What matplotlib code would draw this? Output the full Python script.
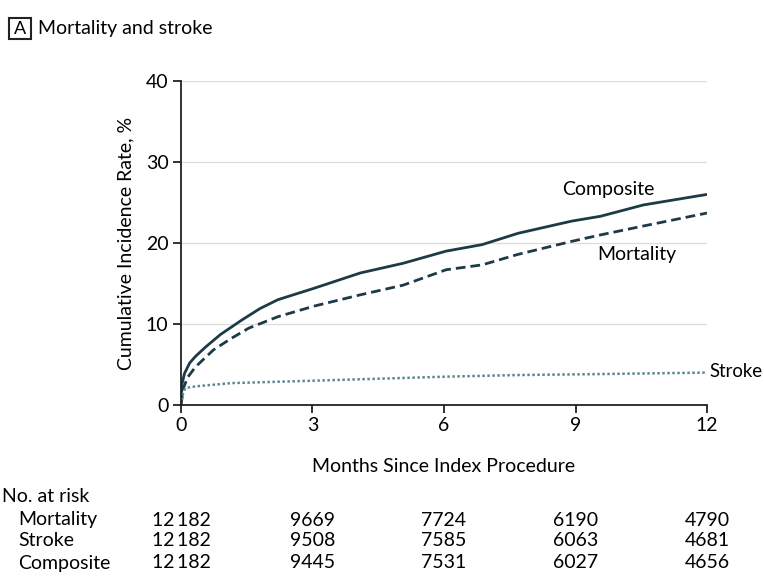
import matplotlib
matplotlib.use("Agg")
import matplotlib.pyplot as plt
from matplotlib.patches import Rectangle
from matplotlib.transforms import blended_transform_factory

# --- data ---
composite_months = [0, 0.02, 0.08, 0.2, 0.33, 0.57, 0.90, 1.39, 1.8, 2.21, 3.03, 4.09, 5.07, 6.05, 6.87, 7.69, 8.91, 9.57, 10.55, 12]
composite_pct = [0, 2.5, 3.9, 5.2, 6.0, 7.2, 8.7, 10.5, 11.9, 13.0, 14.4, 16.3, 17.5, 19.0, 19.8, 21.2, 22.7, 23.3, 24.7, 26.0]

mortality_months = [0, 0.05, 0.15, 0.33, 0.74, 1.14, 1.55, 2.21, 3.03, 4.09, 5.07, 6.05, 6.87, 7.69, 8.91, 9.57, 10.55, 12]
mortality_pct = [0, 2.0, 3.4, 4.7, 6.8, 8.2, 9.5, 10.9, 12.2, 13.6, 14.8, 16.7, 17.3, 18.6, 20.2, 21.0, 22.1, 23.7]

stroke_months = [0, 0.05, 0.1, 0.33, 1.14, 3.03, 6.05, 7.69, 9.3, 12]
stroke_pct = [0, 1.5, 2.1, 2.3, 2.7, 3.0, 3.5, 3.7, 3.8, 4.0]

tick_months = [0, 3, 6, 9, 12]
risk_rows = ["Mortality", "Stroke", "Composite"]
risk_mortality = ["12\u2009182", "9669", "7724", "6190", "4790"]
risk_stroke = ["12\u2009182", "9508", "7585", "6063", "4681"]
risk_composite = ["12\u2009182", "9445", "7531", "6027", "4656"]

plt.rcParams["font.family"] = ["Lato", "DejaVu Sans"]

ink = "#1d3a47"
fs = 14

fig = plt.figure(figsize=(7.64, 5.77), dpi=100)
ax = fig.add_axes([0.2369, 0.2981, 0.6885, 0.5615])

ax.plot(composite_months, composite_pct, color=ink, lw=2.0, solid_capstyle="butt")
ax.plot(mortality_months, mortality_pct, color=ink, lw=2.0, linestyle=(0, (3.5, 1.8)))
ax.plot(stroke_months, stroke_pct, color="#5f8790", lw=1.8, linestyle=(0, (1, 1)))

ax.set_xlim(0, 12)
ax.set_ylim(0, 40)
ax.set_xticks(tick_months)
ax.set_yticks([0, 10, 20, 30, 40])
for y in [10, 20, 30, 40]:
    ax.axhline(y, color="#dcdcdc", lw=0.9, zorder=0)

for side in ["top", "right"]:
    ax.spines[side].set_visible(False)
for side in ["left", "bottom"]:
    ax.spines[side].set_color("#222222")
    ax.spines[side].set_linewidth(1.3)
ax.tick_params(direction="out", length=6, width=1.3, color="#222222", labelsize=fs, pad=3)

ax.set_xlabel("Months Since Index Procedure", fontsize=fs, labelpad=17)
ax.set_ylabel("Cumulative Incidence Rate, %", fontsize=fs, labelpad=8)

ax.text(9.74, 26.6, "Composite", fontsize=fs, ha="center", va="center")
ax.text(10.4, 18.6, "Mortality", fontsize=fs, ha="center", va="center")
ax.text(12.06, 4.1, "Stroke", fontsize=13.4, ha="left", va="center", clip_on=False)

# panel title
fig.add_artist(Rectangle((9 / 764, 1 - 39 / 577), 22 / 764, 21 / 577,
                         transform=fig.transFigure, fill=False, lw=1.5, ec="#222222"))
fig.text(20 / 764, 1 - 28.5 / 577, "A", fontsize=fs - 1, ha="center", va="center")
fig.text(38 / 764, 1 - 28.5 / 577, "Mortality and stroke", fontsize=fs, ha="left", va="center")

# number at risk table
fig.text(2 / 764, 1 - 497 / 577, "No. at risk", fontsize=fs, ha="left", va="center")
trans = blended_transform_factory(ax.transData, fig.transFigure)
row_y = [520, 541, 563]
for label, values, py in zip(risk_rows, [risk_mortality, risk_stroke, risk_composite], row_y):
    fig.text(18 / 764, 1 - py / 577, label, fontsize=fs, ha="left", va="center")
    for m, v in zip(tick_months, values):
        ax.text(m, 1 - py / 577, v, transform=trans, fontsize=fs, ha="center", va="center", clip_on=False)

fig.savefig("out.png", dpi=100, facecolor="white")
